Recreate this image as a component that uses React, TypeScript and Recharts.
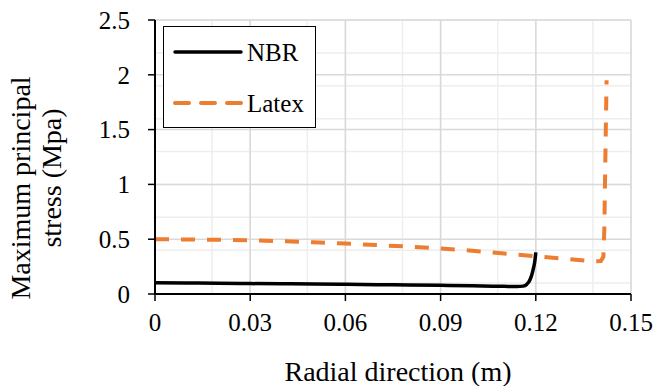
import { LineChart, Line, XAxis, YAxis, CartesianGrid, Legend, Label } from 'recharts';

// NBR curve (radial position in m, stress in MPa)
const nbrX = [0, 0.01, 0.02, 0.03, 0.04, 0.05, 0.06, 0.07, 0.08, 0.09, 0.1, 0.11, 0.114, 0.116, 0.1172, 0.118, 0.1187, 0.1193, 0.1197, 0.12];
const nbrY = [0.102, 0.1, 0.098, 0.095, 0.093, 0.091, 0.088, 0.085, 0.082, 0.079, 0.075, 0.07, 0.068, 0.072, 0.09, 0.12, 0.17, 0.24, 0.3, 0.38];

// Latex curve
const latexX = [0, 0.01, 0.02, 0.03, 0.04, 0.05, 0.06, 0.07, 0.08, 0.09, 0.1, 0.11, 0.12, 0.13, 0.138, 0.1405, 0.1413, 0.1416, 0.1419, 0.1423];
const latexY = [0.5, 0.498, 0.495, 0.49, 0.482, 0.472, 0.46, 0.446, 0.432, 0.415, 0.395, 0.37, 0.345, 0.32, 0.297, 0.3, 0.34, 0.6, 1.2, 1.95];

const xTicks = [0, 0.03, 0.06, 0.09, 0.12, 0.15];
const yTicks = [0, 0.5, 1, 1.5, 2, 2.5];
const xMinor = Array.from({ length: 26 }, (_, i) => +(i * 0.006).toFixed(3));
const yMinor = Array.from({ length: 26 }, (_, i) => +(i * 0.1).toFixed(1));

const seriesNames = ['NBR', 'Latex'];
const seriesColors = ['#000000', '#ED7D31'];

const nbrData = nbrX.map((x, i) => ({ x, y: nbrY[i] }));
const latexData = latexX.map((x, i) => ({ x, y: latexY[i] }));

const FONT = '"Liberation Serif", "Times New Roman", serif';
const textStyle = { fontFamily: FONT, fontSize: 25, fill: '#000' };
const titleStyle = { fontFamily: FONT, fontSize: 28, fill: '#000' };

const LegendBox = () => (
  <div style={{ width: 151, height: 100, border: '1px solid #000', background: '#fff', boxSizing: 'content-box' }}>
    <svg width={151} height={100}>
      <line x1={11} x2={77} y1={25} y2={25} stroke={seriesColors[0]} strokeWidth={3.5} strokeLinecap="round" />
      <text x={83} y={25} dy="0.35em" style={textStyle}>{seriesNames[0]}</text>
      <line x1={11} x2={77} y1={76} y2={76} stroke={seriesColors[1]} strokeWidth={4} strokeDasharray="14 12" strokeLinecap="round" />
      <text x={83} y={76} dy="0.35em" style={textStyle}>{seriesNames[1]}</text>
    </svg>
  </div>
);

const XTick = (props: any) => (
  <text x={props.x} y={props.y} dy="0.71em" textAnchor="middle" style={textStyle}>{props.payload.value}</text>
);

const YTick = (props: any) => (
  <text x={props.x} y={props.y} dy="0.35em" textAnchor="end" style={textStyle}>{props.payload.value}</text>
);

const YTitle = (props: any) => {
  const vb = props.viewBox || { x: 0, y: 0, width: 0, height: 0 };
  const x1 = vb.x + 20;
  const y1 = vb.y + 168;
  const x2 = vb.x + 51;
  const y2 = vb.y + 158;
  return (
    <g>
      <text x={x1} y={y1} transform={`rotate(-90 ${x1} ${y1})`} textAnchor="middle" dominantBaseline="central" style={titleStyle}>Maximum principal</text>
      <text x={x2} y={y2} transform={`rotate(-90 ${x2} ${y2})`} textAnchor="middle" dominantBaseline="central" style={titleStyle}>stress (Mpa)</text>
    </g>
  );
};

const XTitle = (props: any) => {
  const vb = props.viewBox || { x: 0, y: 0, width: 0, height: 0 };
  return (
    <text x={vb.x + vb.width / 2 + 5} y={vb.y + 87} textAnchor="middle" style={titleStyle}>Radial direction (m)</text>
  );
};

export default function App() {
  return (
    <div style={{ position: 'absolute', left: 0, top: 0, background: '#fff', fontFamily: FONT }}>
      <LineChart width={655} height={386} margin={{ top: 20, right: 24, left: 0, bottom: 0 }}>
        <CartesianGrid verticalValues={xMinor} horizontalValues={yMinor} stroke="#eeeeee" strokeWidth={1.5} />
        <CartesianGrid stroke="#d9d9d9" strokeWidth={1.5} />
        <XAxis
          type="number"
          dataKey="x"
          domain={[0, 0.15]}
          ticks={xTicks}
          height={92}
          tickSize={7}
          tickMargin={12}
          axisLine={{ stroke: '#000', strokeWidth: 2 }}
          tickLine={{ stroke: '#000', strokeWidth: 1.5 }}
          tick={<XTick />}
          allowDataOverflow
        >
          <Label content={<XTitle />} />
        </XAxis>
        <XAxis xAxisId="top" orientation="top" type="number" domain={[0, 0.15]} height={0} tick={false} tickLine={false} axisLine={{ stroke: '#000', strokeWidth: 2 }} />
        <YAxis
          type="number"
          domain={[0, 2.5]}
          ticks={yTicks}
          width={155}
          tickSize={7}
          tickMargin={18}
          axisLine={{ stroke: '#000', strokeWidth: 2 }}
          tickLine={{ stroke: '#000', strokeWidth: 1.5 }}
          tick={<YTick />}
          allowDataOverflow
        >
          <Label content={<YTitle />} />
        </YAxis>
        <YAxis yAxisId="right" orientation="right" type="number" domain={[0, 2.5]} width={0} tick={false} tickLine={false} axisLine={{ stroke: '#000', strokeWidth: 2 }} />
        <Legend
          layout="horizontal"
          verticalAlign="middle"
          align="center"
          content={<LegendBox />}
          wrapperStyle={{ left: 163, top: 26, width: 153, height: 102 }}
        />
        <Line data={nbrData} dataKey="y" name={seriesNames[0]} type="monotone" stroke={seriesColors[0]} strokeWidth={3.5} dot={false} isAnimationActive={false} />
        <Line data={latexData} dataKey="y" name={seriesNames[1]} type="linear" stroke={seriesColors[1]} strokeWidth={4} strokeDasharray="14 12" dot={false} isAnimationActive={false} />
      </LineChart>
    </div>
  );
}
